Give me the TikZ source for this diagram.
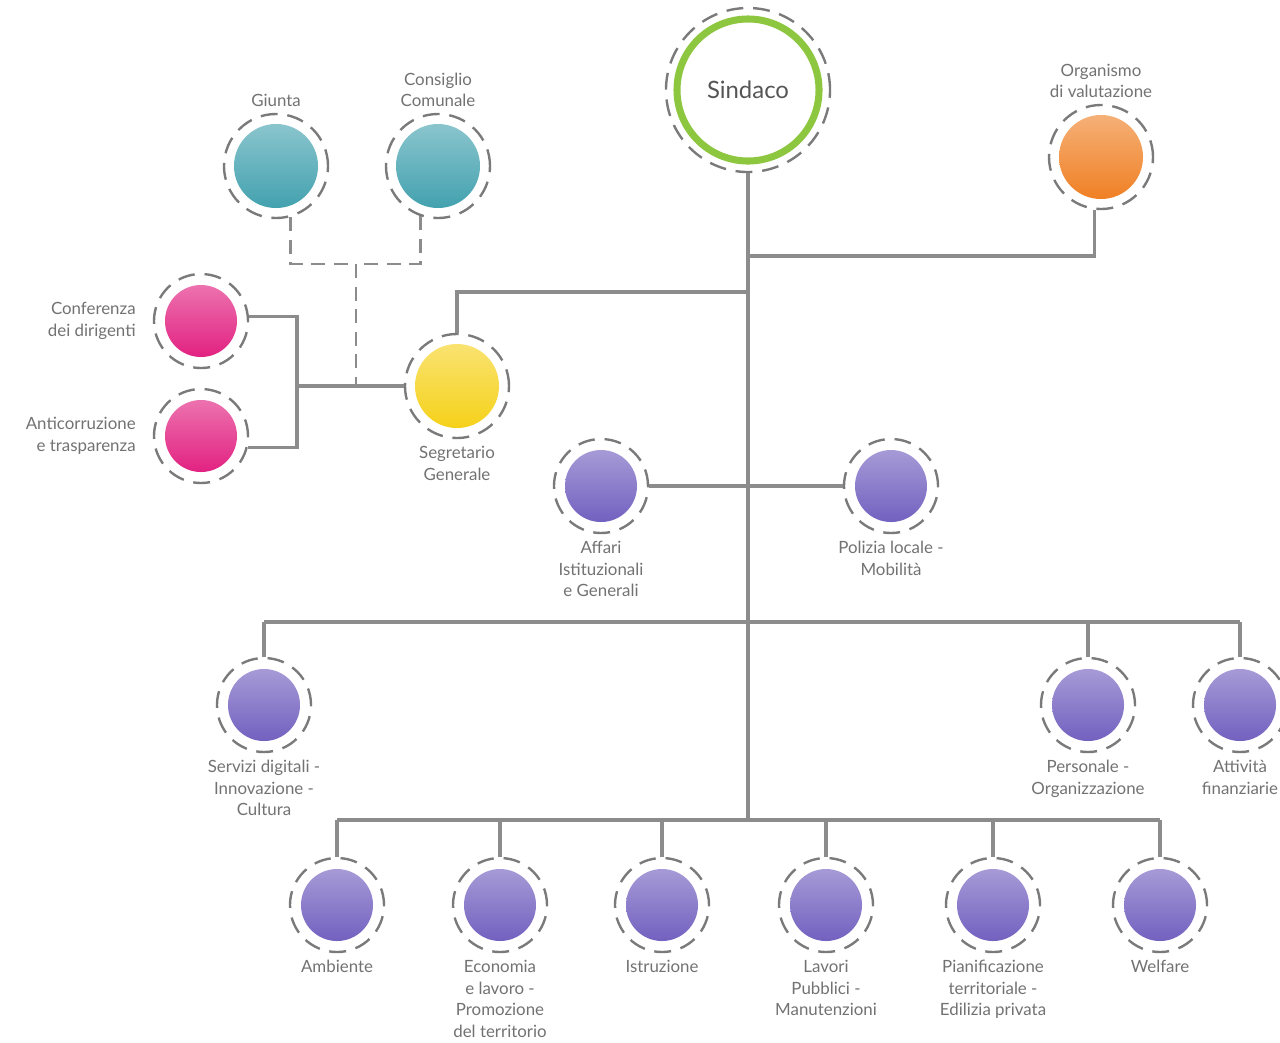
\documentclass[tikz,border=0pt]{standalone}
\usepackage{fontspec}
\setmainfont{Lato}
\usetikzlibrary{positioning}
\definecolor{linegray}{HTML}{8C8C8C}
\definecolor{ringgray}{HTML}{7A7A7A}
\definecolor{textgray}{HTML}{727272}
\definecolor{sindgreen}{HTML}{8DC63F}
\definecolor{ballteal}{HTML}{3A9DAB}
\definecolor{ballpink}{HTML}{E0157A}
\definecolor{ballyellow}{HTML}{F5CF0F}
\definecolor{ballorange}{HTML}{EF7A1A}
\definecolor{ballpurple}{HTML}{6B58BC}
\begin{document}
\begin{tikzpicture}[x=0.025cm,y=-0.025cm,
                    ball radius/.store in=\ballr, ball radius=0.9cm,
                    unit node/.style={circle,draw=ringgray,line width=1.7pt,dash pattern=on 12pt off 7pt,
                      minimum size=2.35cm,inner sep=0pt,
                      path picture={\shade[top color=#1!55!white,middle color=#1!92!white,bottom color=#1]
                        (path picture bounding box.center) circle (\ballr);}},
                    big/.style={minimum size=2.6cm,ball radius=1.05cm},
                    sindaco node/.style={circle,draw=sindgreen,line width=5pt,minimum size=3.55cm,
                      text=textgray!75!black,font=\fontsize{17}{20}\selectfont},
                    sindaco ring/.style={circle,draw=ringgray,line width=1.7pt,dash pattern=on 12pt off 7pt,
                      minimum size=4.1cm,inner sep=0pt},
                    lbl/.style={text=textgray,font=\fontsize{12}{15.3}\selectfont,align=center,inner sep=1pt},
                    link/.style={draw=linegray,line width=2.2pt},
                    dlink/.style={draw=linegray,line width=2pt,dash pattern=on 10pt off 6pt}
                   ]
  \useasboundingbox (0,0) rectangle (1280,1042);

  % top
  \node[sindaco node] (sindaco) at (748,90) {Sindaco};
  \node[sindaco ring] (sindaco ring) at (748,90) {};
  \node[unit node=ballteal,big] (giunta) at (276,166) {};
  \node[unit node=ballteal,big] (consiglio) at (438,166) {};
  \node[unit node=ballorange,big] (organismo) at (1101,157) {};

  % staff
  \node[unit node=ballpink] (conferenza) at (201,321) {};
  \node[unit node=ballpink] (anticorr) at (201,436) {};
  \node[unit node=ballyellow,big] (segretario) at (457,386) {};
  \node[unit node=ballpurple] (affari) at (601,486) {};
  \node[unit node=ballpurple] (polizia) at (891,486) {};

  % departments
  \node[unit node=ballpurple] (servizi) at (264,705) {};
  \node[unit node=ballpurple] (personale) at (1088,705) {};
  \node[unit node=ballpurple] (attivita) at (1240,705) {};
  \node[unit node=ballpurple] (ambiente) at (337,905) {};
  \node[unit node=ballpurple] (economia) at (500,905) {};
  \node[unit node=ballpurple] (istruzione) at (662,905) {};
  \node[unit node=ballpurple] (lavori) at (826,905) {};
  \node[unit node=ballpurple] (pianificazione) at (993,905) {};
  \node[unit node=ballpurple] (welfare) at (1160,905) {};

  % labels
  \node[lbl,above=3pt of giunta] (giunta label) {Giunta};
  \node[lbl,above=3pt of consiglio] (consiglio label) {Consiglio\\Comunale};
  \node[lbl,above=3pt of organismo] (organismo label) {Organismo\\di valutazione};
  \node[lbl,align=right,left=11pt of conferenza] (conferenza label) {Conferenza\\dei dirigenti};
  \node[lbl,align=right,left=11pt of anticorr] (anticorr label) {Anticorruzione\\e trasparenza};
  \node[lbl,below=4pt of segretario] (segretario label) {Segretario\\Generale};
  \node[lbl,below=4pt of affari] (affari label) {Affari\\Istituzionali\\e Generali};
  \node[lbl,below=4pt of polizia] (polizia label) {Polizia locale -\\Mobilità};
  \node[lbl,below=4pt of servizi] (servizi label) {Servizi digitali -\\Innovazione -\\Cultura};
  \node[lbl,below=4pt of personale] (personale label) {Personale -\\Organizzazione};
  \node[lbl,below=4pt of attivita] (attivita label) {Attività\\finanziarie};
  \node[lbl,below=4pt of ambiente] (ambiente label) {Ambiente};
  \node[lbl,below=4pt of economia] (economia label) {Economia\\e lavoro -\\Promozione\\del territorio};
  \node[lbl,below=4pt of istruzione] (istruzione label) {Istruzione};
  \node[lbl,below=4pt of lavori] (lavori label) {Lavori\\Pubblici -\\Manutenzioni};
  \node[lbl,below=4pt of pianificazione] (pianificazione label) {Pianificazione\\territoriale -\\Edilizia privata};
  \node[lbl,below=4pt of welfare] (welfare label) {Welfare};

  % junctions
  \coordinate (t1) at (748,256);
  \coordinate (t2) at (748,292);
  \coordinate (t4) at (748,622);
  \coordinate (t5) at (748,820);
  \coordinate (s1) at (297,386);
  \coordinate (d1) at (356,264);
  \coordinate (d2) at (356,386);

  \draw[link] (sindaco ring) -- (t5);
  \draw[link] (t1) -| (organismo.-97);
  \draw[link] (t2) -| (segretario);
  \draw[link] (affari) -- (polizia);
  \draw[link] (segretario) -- (s1);
  \draw[link] (conferenza.5) -| (s1);
  \draw[link] (anticorr.-14) -| (s1);
  \draw[dlink] (giunta.-74) |- (d1);
  \draw[dlink] (consiglio.-109) |- (d1);
  \draw[dlink] (d1) -- (d2);
  \draw[link] (servizi |- t4) -- (attivita |- t4);
  \foreach \u in {servizi,personale,attivita}
    \draw[link] (\u |- t4) -- (\u);
  \draw[link] (ambiente |- t5) -- (welfare |- t5);
  \foreach \u in {ambiente,economia,istruzione,lavori,pianificazione,welfare}
    \draw[link] (\u |- t5) -- (\u);
\end{tikzpicture}
\end{document}
